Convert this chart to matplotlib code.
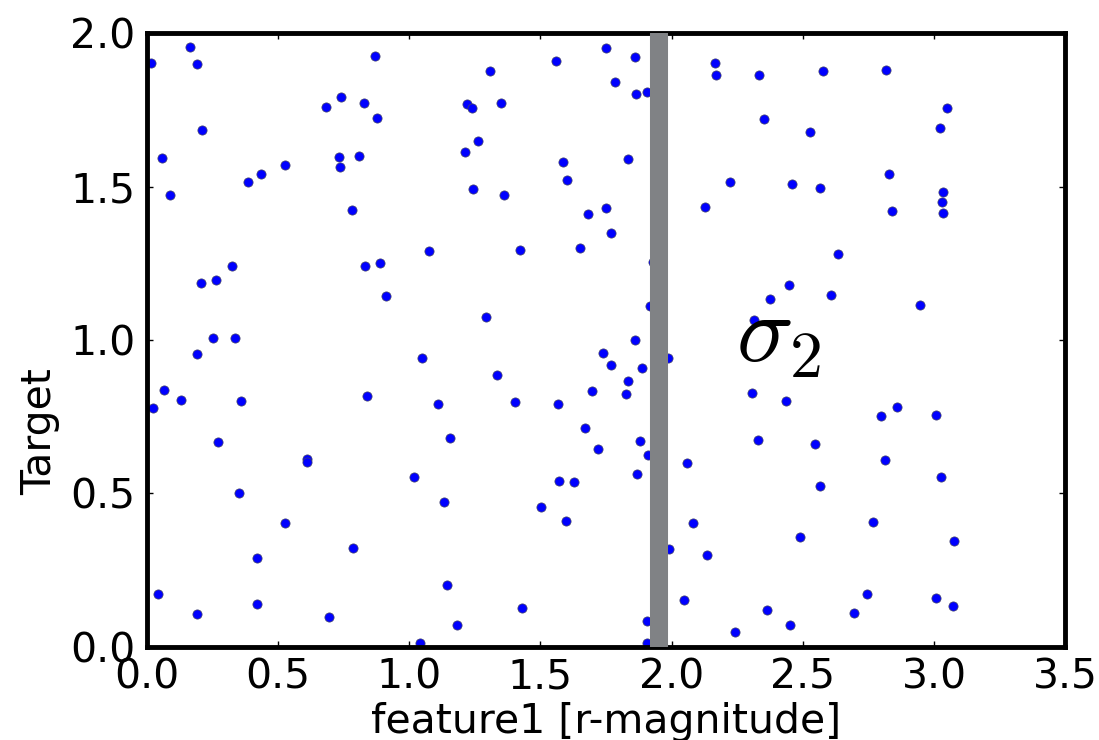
import matplotlib
matplotlib.use("Agg")
import matplotlib.pyplot as plt
import numpy as np

# scatter values
feature1 = [0.015, 0.165, 0.192, 0.869, 0.684, 0.740, 0.826, 0.878, 0.212, 0.060,
            0.731, 0.809, 0.737, 0.525, 0.434, 0.384, 0.088, 0.782, 1.074, 0.832,
            0.888, 0.323, 0.265, 0.206, 0.913, 0.254, 0.338, 0.192, 1.047, 0.065,
            0.132, 0.023, 0.359, 0.841, 1.108, 1.156, 0.273, 0.611, 0.611, 1.019,
            0.353, 1.134, 0.525, 0.784, 0.421, 0.044, 1.145, 0.421, 0.192, 0.695,
            1.181, 1.041, 1.748, 1.561, 1.859, 1.308, 1.785, 1.865, 1.906, 2.163,
            2.168, 2.334, 1.219, 1.240, 1.350, 1.261, 1.214, 1.586, 1.602, 1.833,
            2.221, 1.244, 1.361, 1.748, 1.681, 2.126, 1.770, 1.422, 1.650, 1.294,
            1.859, 1.964, 1.929, 1.917, 2.315, 2.351, 2.578, 2.817, 2.525, 3.050,
            3.023, 2.829, 2.457, 2.566, 3.033, 3.029, 3.033, 2.840, 2.635, 2.447,
            2.374, 2.608, 2.945, 1.738, 1.770, 1.885, 1.985, 1.334, 1.833, 1.697,
            1.827, 1.403, 1.565, 2.304, 1.670, 1.718, 1.879, 1.910, 2.328, 2.057,
            1.869, 1.570, 1.627, 1.502, 1.597, 2.080, 1.991, 2.136, 1.429, 2.048,
            1.905, 2.240, 1.905, 2.436, 2.798, 2.860, 3.008, 2.546, 2.813, 3.027,
            2.565, 2.767, 2.489, 3.075, 2.744, 3.008, 3.070, 2.363, 2.693, 2.452]
target = [1.904, 1.956, 1.899, 1.926, 1.761, 1.791, 1.774, 1.725, 1.684, 1.594,
          1.596, 1.600, 1.563, 1.572, 1.541, 1.514, 1.474, 1.425, 1.290, 1.241,
          1.250, 1.241, 1.196, 1.187, 1.142, 1.008, 1.008, 0.953, 0.940, 0.837,
          0.805, 0.778, 0.801, 0.818, 0.792, 0.680, 0.666, 0.612, 0.603, 0.554,
          0.501, 0.473, 0.402, 0.322, 0.289, 0.173, 0.200, 0.138, 0.107, 0.098,
          0.071, 0.011, 1.953, 1.909, 1.922, 1.876, 1.841, 1.801, 1.810, 1.904,
          1.863, 1.863, 1.770, 1.756, 1.774, 1.648, 1.613, 1.581, 1.523, 1.590,
          1.514, 1.491, 1.473, 1.429, 1.411, 1.434, 1.348, 1.294, 1.299, 1.074,
          0.999, 1.321, 1.253, 1.111, 1.065, 1.720, 1.877, 1.881, 1.679, 1.756,
          1.692, 1.540, 1.509, 1.496, 1.484, 1.451, 1.414, 1.421, 1.280, 1.178,
          1.134, 1.147, 1.115, 0.958, 0.918, 0.908, 0.940, 0.887, 0.867, 0.833,
          0.824, 0.797, 0.792, 0.828, 0.712, 0.645, 0.672, 0.626, 0.675, 0.599,
          0.563, 0.540, 0.537, 0.456, 0.411, 0.402, 0.318, 0.299, 0.125, 0.152,
          0.084, 0.048, 0.013, 0.801, 0.751, 0.783, 0.755, 0.662, 0.608, 0.554,
          0.523, 0.407, 0.358, 0.345, 0.173, 0.160, 0.134, 0.120, 0.111, 0.071]

split_x = 1.95
xticks = [0.0, 0.5, 1.0, 1.5, 2.0, 2.5, 3.0, 3.5]
yticks = [0.0, 0.5, 1.0, 1.5, 2.0]

plt.rcParams['mathtext.fontset'] = 'cm'

fig = plt.figure(figsize=(10.99, 7.4), dpi=100)
ax = fig.add_axes([0.1335, 0.126, 0.836, 0.829])

ax.scatter(feature1, target, s=44, c='#0000ff', edgecolors='#444466',
           linewidths=0.5, zorder=2)
ax.axvline(split_x, color='#808285', lw=13, zorder=3)

ax.text(2.245, 0.93, r'$\sigma_2$', fontsize=68, zorder=4)

ax.set_xlim(0, 3.5)
ax.set_ylim(0, 2.0)
ax.set_xticks(xticks)
ax.set_yticks(yticks)
ax.set_xticklabels(['%.1f' % t for t in xticks])
ax.set_yticklabels(['%.1f' % t for t in yticks])
ax.tick_params(direction='in', length=4, width=1, labelsize=29.5,
               top=True, right=True, pad=8)
for sp in ax.spines.values():
    sp.set_linewidth(3.5)

ax.set_xlabel('feature1 [r-magnitude]', fontsize=29.5, labelpad=3)
ax.set_ylabel('Target', fontsize=29.5)
ax.yaxis.set_label_coords(-0.094, 0.35)

fig.savefig('out.png', dpi=100)
